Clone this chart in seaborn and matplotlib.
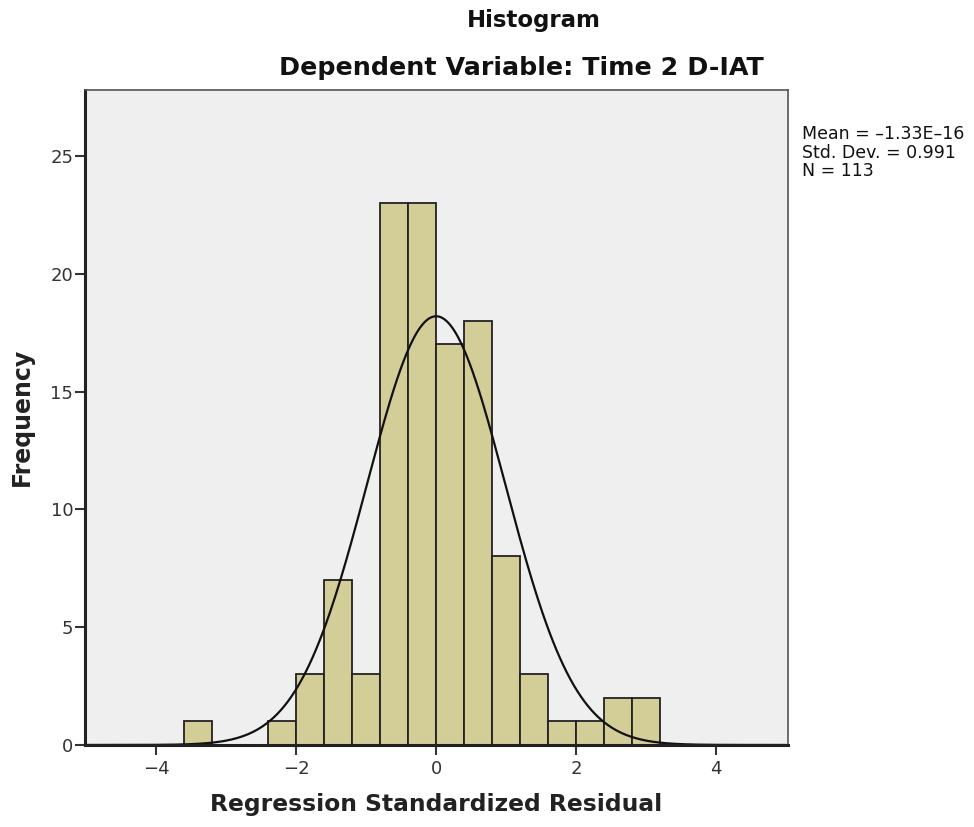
import numpy as np
import matplotlib
matplotlib.use("Agg")
import matplotlib.pyplot as plt
import seaborn as sns

# histogram bins (regression standardized residuals), width 0.4
bin_edges = [-3.6, -3.2, -2.8, -2.4, -2.0, -1.6, -1.2, -0.8, -0.4,
             0.0, 0.4, 0.8, 1.2, 1.6, 2.0, 2.4, 2.8, 3.2]
counts = [1, 0, 0, 1, 3, 7, 3, 23, 23, 17, 18, 8, 3, 1, 1, 2, 2]

# summary stats shown in the legend box
mean_val = -1.33e-16
std_val = 0.991
n_obs = 113

x_ticks = [-4, -2, 0, 2, 4]
y_ticks = [0, 5, 10, 15, 20, 25]

sns.set_theme(style="white")
plt.rcParams["font.family"] = ["DejaVu Sans"]

fig = plt.figure(figsize=(9.74, 8.27), dpi=100)
ax = fig.add_axes([0.0873, 0.0992, 0.7217, 0.7920])
ax.set_facecolor("#efefef")

centers = [(bin_edges[i] + bin_edges[i + 1]) / 2 for i in range(len(counts))]
sns.histplot(x=centers, weights=counts, bins=bin_edges, ax=ax,
             color="#d3ce97", alpha=1.0, edgecolor="#222222", linewidth=1.3)

# fitted normal curve
bw = bin_edges[1] - bin_edges[0]
xs = np.linspace(-5, 5, 400)
ys = n_obs * bw * np.exp(-0.5 * ((xs - mean_val) / std_val) ** 2) / (std_val * np.sqrt(2 * np.pi))
sns.lineplot(x=xs, y=ys, ax=ax, color="#111111", linewidth=1.6)

ax.set_xlim(-5.02, 5.03)
ax.set_ylim(0, 27.8)
ax.set_xticks(x_ticks)
ax.set_yticks(y_ticks)
ax.tick_params(axis="both", which="both", direction="out", length=7, width=1.5,
               colors="#333333", labelsize=13, labelcolor="#333333",
               bottom=True, left=True, top=False, right=False)
ax.tick_params(axis="x", pad=4)
ax.tick_params(axis="y", pad=1.5)
ax.set_xlabel("")
ax.set_ylabel("")

for side in ["left", "bottom"]:
    ax.spines[side].set_color("#222222")
    ax.spines[side].set_linewidth(2.2)
for side in ["top", "right"]:
    ax.spines[side].set_color("#555555")
    ax.spines[side].set_linewidth(1.2)

fig.text(534 / 974, 1 - 20 / 827, "Histogram", ha="center", va="center",
         fontsize=16.5, fontweight="bold", color="#111111")
fig.text(521 / 974, 1 - 68 / 827, "Dependent Variable: Time 2 D-IAT", ha="center",
         va="center", fontsize=18.3, fontweight="bold", color="#111111")
fig.text(436 / 974, 1 - 805 / 827, "Regression Standardized Residual", ha="center",
         va="center", fontsize=16.8, fontweight="bold", color="#222222")
fig.text(22 / 974, 1 - 417 / 827, "Frequency", ha="center", va="center",
         rotation=90, fontsize=17, fontweight="bold", color="#222222")

stats = (f"Mean = \u20131.33E\u201316"
         f"\nStd. Dev. = {std_val:.3f}\nN = {n_obs}")
fig.text(802 / 974, 1 - 125 / 827, stats, ha="left", va="top",
         fontsize=12.5, color="#111111", linespacing=1.05)

fig.savefig("out.png", dpi=100)
